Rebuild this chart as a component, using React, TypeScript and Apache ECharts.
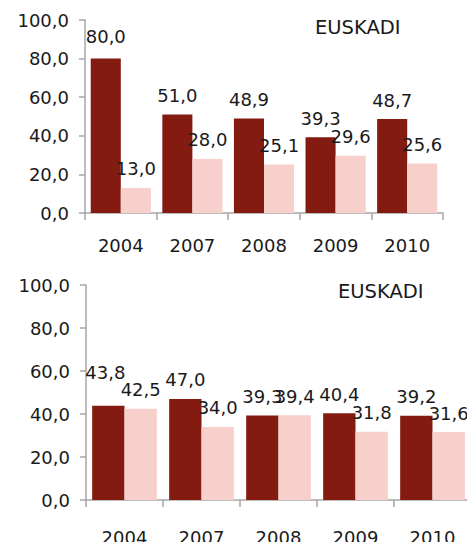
import React, { useEffect, useRef } from "react";
import * as echarts from "echarts";

const years = ["2004", "2007", "2008", "2009", "2010"];
const top_dark = [80.0, 51.0, 48.9, 39.3, 48.7];
const top_light = [13.0, 28.0, 25.1, 29.6, 25.6];
const bottom_dark = [43.8, 47.0, 39.3, 40.4, 39.2];
const bottom_light = [42.5, 34.0, 39.4, 31.8, 31.6];
const yTicks = [0, 20, 40, 60, 80, 100];
const panelTitle = "EUSKADI";

const DARK = "#841b10";
const LIGHT = "#f7cfcb";
const AXIS = "#a6a6a6";
const TEXT = "#1a1a1a";
const FONT = "DejaVu Sans";

const fmt = (v: number) => v.toFixed(1).replace(".", ",");

export default function App() {
  const ref = useRef<HTMLDivElement>(null);
  useEffect(() => {
    const chart = echarts.init(ref.current!, null, { renderer: "svg" });
    const grids = [
      { left: 85, top: 20, width: 358, height: 193, outerBoundsMode: "none", containLabel: false },
      { left: 86, top: 285, width: 385, height: 215, outerBoundsMode: "none", containLabel: false },
    ];
    const xAxis = grids.map((_, i) => ({
      type: "category",
      gridIndex: i,
      data: years,
      axisLine: { show: true, lineStyle: { color: AXIS, width: 1.5 } },
      axisTick: { show: true, length: 7, lineStyle: { color: AXIS, width: 1.5 } },
      axisLabel: {
        color: TEXT,
        fontFamily: FONT,
        fontSize: 18,
        margin: i === 0 ? 23 : 28,
      },
    }));
    const yAxis = grids.map((_, i) => ({
      type: "value",
      gridIndex: i,
      min: yTicks[0],
      max: yTicks[yTicks.length - 1],
      interval: 20,
      splitLine: { show: false },
      axisLine: { show: true, lineStyle: { color: AXIS, width: 1.5 } },
      axisTick: { show: true, length: 6, lineStyle: { color: AXIS, width: 1.5 } },
      axisLabel: {
        color: TEXT,
        fontFamily: FONT,
        fontSize: 18,
        margin: 16,
        formatter: (v: number) => fmt(v),
      },
    }));
    const mk = (data: number[], color: string, gi: number, special?: (i: number) => any) => ({
      type: "bar",
      xAxisIndex: gi,
      yAxisIndex: gi,
      barGap: "0%",
      barCategoryGap: "16%",
      itemStyle: { color },
      data: data.map((v, i) => {
        const extra = special ? special(i) : null;
        return extra ? { value: v, label: extra } : v;
      }),
      label: {
        show: true,
        position: "top",
        distance: 10,
        color: TEXT,
        fontFamily: FONT,
        fontSize: 18,
        formatter: (p: any) => fmt(p.value),
      },
    });
    chart.setOption({
      animation: false,
      grid: grids,
      xAxis,
      yAxis,
      series: [
        mk(top_dark, DARK, 0, (i) => (i === 0 ? { offset: [0, -3] } : null)),
        mk(top_light, LIGHT, 0),
        mk(bottom_dark, DARK, 1, (i) => (i === 0 ? { offset: [-3, -14] } : null)),
        mk(bottom_light, LIGHT, 1),
      ],
      graphic: [
        {
          type: "text",
          left: 315,
          top: 17,
          style: { text: panelTitle, fontFamily: FONT, fontSize: 19.5, fill: TEXT },
        },
        {
          type: "text",
          left: 338,
          top: 281,
          style: { text: panelTitle, fontFamily: FONT, fontSize: 19.5, fill: TEXT },
        },
      ],
    });
    return () => chart.dispose();
  }, []);
  return (
    <div
      ref={ref}
      style={{ position: "absolute", left: 0, top: 0, width: 467, height: 542 }}
    />
  );
}
